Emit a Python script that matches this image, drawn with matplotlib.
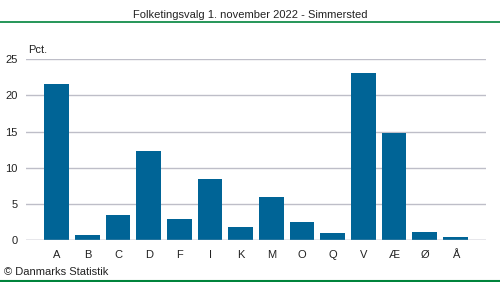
import matplotlib
matplotlib.use("Agg")
import matplotlib.pyplot as plt
from matplotlib.lines import Line2D

categories = ["A", "B", "C", "D", "F", "I", "K", "M", "O", "Q", "V", "Æ", "Ø", "Å"]
values = [21.6, 0.7, 3.5, 12.3, 2.9, 8.4, 1.8, 6.0, 2.5, 1.0, 23.1, 14.8, 1.1, 0.4]
yticks = [0, 5, 10, 15, 20, 25]

plt.rcParams['font.family'] = ['Liberation Sans', 'DejaVu Sans']
W, H = 500, 282
fig = plt.figure(figsize=(W/100, H/100), dpi=100)
ax = fig.add_axes([26/W, 1-240/H, 460/W, (240-59.3)/H])

x = list(range(len(categories)))
ax.bar(x, values, width=0.81, color="#006496", zorder=3)
ax.set_xlim(-1, len(categories))
ax.set_ylim(0, 25)
ax.set_yticks(yticks)
ax.set_xticks(x)
ax.set_xticklabels(categories)
ax.tick_params(axis='both', length=0, labelsize=8, colors="#222222")
ax.tick_params(axis='y', pad=6)
ax.tick_params(axis='x', pad=7)
ax.yaxis.grid(True, color="#bebec8", linewidth=1, zorder=0)
for s in ax.spines.values():
    s.set_visible(False)
ax.axhline(0, color="#bebec8", linewidth=1, zorder=4)

fig.text(28/W, 1-50/H, "Pct.", fontsize=8, ha="left", va="center", color="#222222")
fig.text(0.5, 1-15/H, "Folketingsvalg 1. november 2022 - Simmersted", fontsize=8, ha="center", va="center", color="#222222")
fig.text(4/W, 1-272/H, "© Danmarks Statistik", fontsize=8, ha="left", va="center", color="#222222")
fig.add_artist(Line2D([0, 1], [1-22/H, 1-22/H], color="#00843c", linewidth=1.2, transform=fig.transFigure))
fig.add_artist(Line2D([0, 1], [1-281/H, 1-281/H], color="#00843c", linewidth=1.5, transform=fig.transFigure))

fig.savefig("out.png", dpi=100)
